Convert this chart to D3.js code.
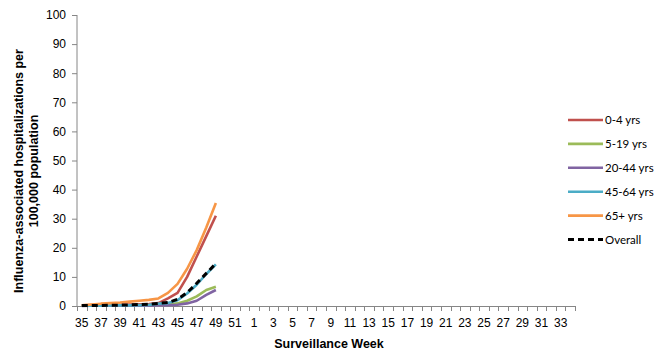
<!DOCTYPE html>
<html><head><meta charset="utf-8">
<script src="https://cdn.jsdelivr.net/npm/d3@7"></script>
<style>body{margin:0;background:#fff}svg{display:block}</style>
</head><body>
<svg id="c" width="670" height="360"></svg>
<script>
const weeks = [35,36,37,38,39,40,41,42,43,44,45,46,47,48,49,50,51,52,1,2,3,4,5,6,7,8,9,10,11,12,13,14,15,16,17,18,19,20,21,22,23,24,25,26,27,28,29,30,31,32,33,34];
const seriesNames = ["0-4 yrs","5-19 yrs","20-44 yrs","45-64 yrs","65+ yrs","Overall"];
const v0_4   = [0.2,0.3,0.3,0.4,0.4,0.5,0.6,0.7,1.0,2.6,4.5,10.0,17.0,24.0,31.0];
const v5_19  = [0.1,0.1,0.1,0.1,0.1,0.2,0.2,0.2,0.3,0.5,0.9,1.8,3.3,5.5,6.6];
const v20_44 = [0.0,0.1,0.1,0.1,0.1,0.1,0.1,0.1,0.2,0.3,0.4,0.9,1.8,3.8,5.5];
const v45_64 = [0.1,0.1,0.1,0.2,0.2,0.2,0.3,0.4,0.8,1.0,2.0,4.3,7.3,11.0,14.3];
const v65    = [0.2,0.5,0.8,1.0,1.2,1.5,1.8,2.1,2.6,4.5,7.6,12.8,19.2,27.0,35.4];
const vAll   = [0.2,0.2,0.2,0.3,0.3,0.4,0.5,0.6,0.9,1.2,2.3,4.6,7.8,11.2,14.6];
const yTicks = [0,10,20,30,40,50,60,70,80,90,100];
const colors = ["#C0504D","#9BBB59","#8064A2","#4BACC6","#F79646","#000000"];
const seriesVals = [v0_4,v5_19,v20_44,v45_64,v65,vAll];

const svg = d3.select("#c");
const L = 77, R = 575, T = 15, B = 306;
const x = d3.scaleBand().domain(weeks.map((w,i)=>i)).range([L,R]).paddingInner(0).paddingOuter(0);
const y = d3.scaleLinear().domain([0,100]).range([B,T]);
const axisColor = "#868686";

// Y axis
const ya = svg.append("g").attr("transform",`translate(${L},0)`)
  .call(d3.axisLeft(y).tickValues(yTicks).tickSize(5).tickPadding(6).tickFormat(d3.format("d")));
ya.select(".domain").attr("stroke",axisColor).attr("d",`M0,${B}V${T}`);
ya.selectAll(".tick line").attr("stroke",axisColor);
ya.selectAll(".tick text").attr("font-family","'Liberation Sans',Arial,sans-serif").attr("font-size",12).attr("fill","#000");

// X axis
const xa = svg.append("g").attr("transform",`translate(0,${B})`);
xa.append("line").attr("x1",L).attr("x2",R).attr("y1",0.5).attr("y2",0.5).attr("stroke",axisColor);
const bounds = d3.range(weeks.length+1).map(i=> i<weeks.length ? x(i) : R);
xa.selectAll("line.t").data(bounds).join("line").attr("class","t")
  .attr("x1",d=>Math.round(d)+0.5).attr("x2",d=>Math.round(d)+0.5).attr("y1",0).attr("y2",5).attr("stroke",axisColor);
xa.selectAll("text").data(weeks.map((w,i)=>({w,i})).filter(d=>d.i%2===0)).join("text")
  .attr("x",d=>x(d.i)+x.bandwidth()/2).attr("y",21)
  .attr("text-anchor","middle").attr("font-family","'Liberation Sans',Arial,sans-serif").attr("font-size",12)
  .text(d=>d.w);

// Lines
const line = d3.line().x((d,i)=>x(i)+x.bandwidth()/2).y(d=>y(d));
seriesVals.forEach((vals,k)=>{
  svg.append("path").datum(vals).attr("d",line).attr("fill","none")
    .attr("stroke",colors[k]).attr("stroke-width", k===5?3:2.6)
    .attr("stroke-linejoin","round")
    .attr("stroke-dasharray", k===5?"6,4":null);
});

// Legend
const lg = svg.append("g");
seriesNames.forEach((n,k)=>{
  const yy = 120 + k*23.9;
  lg.append("line").attr("x1",568).attr("x2",603).attr("y1",yy).attr("y2",yy)
    .attr("stroke",colors[k]).attr("stroke-width",k===5?3:2.6).attr("stroke-dasharray",k===5?"6,4":null);
  lg.append("text").attr("x",605).attr("y",yy+4).attr("font-family","Lato,'Open Sans',sans-serif").attr("font-size",11.5).text(n);
});

// Titles
svg.append("text").attr("x",329).attr("y",348).attr("text-anchor","middle")
  .attr("font-family","'Liberation Sans',Arial,sans-serif").attr("font-weight","bold").attr("font-size",12.5)
  .text("Surveillance Week");
const yt = svg.append("text").attr("transform","translate(0,171) rotate(-90)").attr("text-anchor","middle")
  .attr("font-family","'Liberation Sans',Arial,sans-serif").attr("font-weight","bold").attr("font-size",12.5);
yt.append("tspan").attr("x",0).attr("y",23).text("Influenza-associated hospitalizations per");
yt.append("tspan").attr("x",0).attr("y",38).text("100,000  population");
</script>
</body></html>
